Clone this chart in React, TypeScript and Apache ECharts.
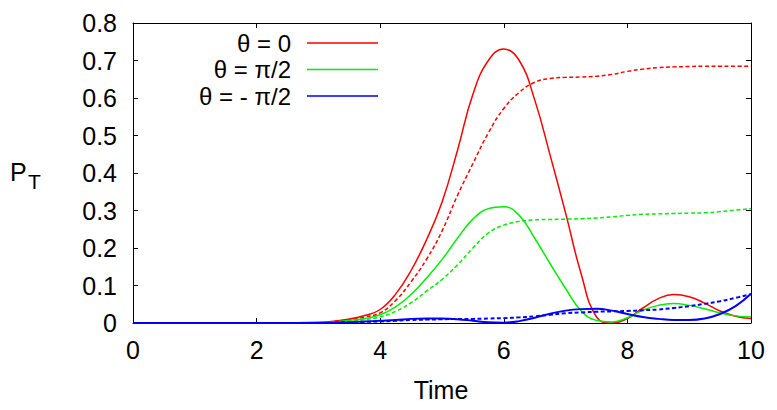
import React, { useEffect, useRef } from "react";
import * as echarts from "echarts";

const time = [0, 1, 2, 2.5, 3, 3.25, 3.5, 3.75, 4, 4.25, 4.5, 4.75, 5, 5.25, 5.5, 5.75, 6, 6.25, 6.5, 6.75, 7, 7.25, 7.5, 7.75, 8, 8.25, 8.5, 8.75, 9, 9.25, 9.5, 9.75, 10];

const redSolid = [0, 0, 0, 0.0005, 0.002, 0.005, 0.011, 0.02, 0.036, 0.077, 0.14, 0.222, 0.322, 0.46, 0.61, 0.7, 0.731, 0.7, 0.595, 0.447, 0.293, 0.132, 0.016, 0, 0.012, 0.04, 0.065, 0.076, 0.07, 0.053, 0.032, 0.018, 0.012];
const redDashed = [0, 0, 0, 0.0003, 0.001, 0.004, 0.009, 0.016, 0.027, 0.06, 0.11, 0.17, 0.245, 0.34, 0.425, 0.507, 0.572, 0.615, 0.642, 0.652, 0.655, 0.656, 0.658, 0.663, 0.671, 0.677, 0.681, 0.683, 0.684, 0.685, 0.685, 0.685, 0.685];
const greenSolid = [0, 0, 0, 0.0003, 0.001, 0.003, 0.007, 0.012, 0.022, 0.043, 0.076, 0.12, 0.169, 0.226, 0.277, 0.305, 0.31, 0.287, 0.226, 0.158, 0.092, 0.033, 0.007, 0.003, 0.014, 0.034, 0.047, 0.052, 0.047, 0.038, 0.027, 0.019, 0.016];
const greenDashed = [0, 0, 0, 0.0002, 0.001, 0.002, 0.004, 0.009, 0.016, 0.031, 0.054, 0.085, 0.116, 0.155, 0.2, 0.24, 0.261, 0.271, 0.275, 0.276, 0.277, 0.278, 0.28, 0.283, 0.287, 0.29, 0.291, 0.292, 0.293, 0.294, 0.297, 0.301, 0.305];
const blueSolid = [0, 0, 0, 0, 0, 0.001, 0.002, 0.004, 0.006, 0.008, 0.011, 0.012, 0.012, 0.01, 0.006, 0.002, 0.001, 0.005, 0.014, 0.025, 0.033, 0.037, 0.038, 0.033, 0.024, 0.016, 0.011, 0.008, 0.008, 0.012, 0.024, 0.045, 0.078];
const blueDashed = [0, 0, 0, 0, 0, 0.001, 0.002, 0.003, 0.004, 0.006, 0.008, 0.009, 0.01, 0.011, 0.011, 0.012, 0.013, 0.015, 0.018, 0.022, 0.026, 0.028, 0.03, 0.031, 0.032, 0.034, 0.036, 0.04, 0.045, 0.051, 0.058, 0.067, 0.077];

const legendNames = ["θ = 0", "θ = π/2", "θ = - π/2"];
const xTicks = { min: 0, max: 10, interval: 2 };
const yTicks = { min: 0, max: 0.8, interval: 0.1 };

const FONT = "'Liberation Sans', Arial, Helvetica, sans-serif";
const RED = "#ff0000";
const GREEN = "#00ee00";
const BLUE = "#0000ff";

function pairs(vals: number[]) {
  return time.map((t, i) => [t, vals[i]]);
}

export default function App() {
  const ref = useRef<HTMLDivElement>(null);
  useEffect(() => {
    const chart = echarts.init(ref.current!, undefined, { renderer: "svg" });
    const axisCommon = {
      type: "value",
      splitLine: { show: false },
      axisLine: { show: true, onZero: false, lineStyle: { color: "#000", width: 1 } },
      axisTick: { show: true, inside: true, length: 5, lineStyle: { color: "#000", width: 1 } },
    };
    const mk = (name: string, vals: number[], color: string, dashed: boolean, width: number) => ({
      type: "line",
      name,
      data: pairs(vals),
      smooth: 0.45,
      symbol: "none",
      showSymbol: false,
      clip: true,
      lineStyle: { color, width, type: dashed ? [4, 2.5] : "solid" },
      itemStyle: { color },
    });
    chart.setOption({
      animation: false,
      backgroundColor: "#fff",
      grid: { left: 133, right: 26, top: 23, bottom: 87 },
      xAxis: [
        {
          ...axisCommon,
          ...xTicks,
          position: "bottom",
          axisLabel: { fontSize: 25, color: "#000", fontFamily: FONT, margin: 14 },
        },
        {
          ...axisCommon,
          ...xTicks,
          position: "top",
          axisLabel: { show: false },
        },
      ],
      yAxis: [
        {
          ...axisCommon,
          ...yTicks,
          position: "left",
          axisLabel: {
            fontSize: 25,
            color: "#000",
            fontFamily: FONT,
            margin: 16,
            formatter: (v: number) => (v === 0 ? "0" : v.toFixed(1)),
          },
        },
        {
          ...axisCommon,
          ...yTicks,
          position: "right",
          axisLabel: { show: false },
        },
      ],
      legend: {
        data: legendNames,
        orient: "vertical",
        align: "right",
        right: 399,
        top: 31,
        icon: "rect",
        itemWidth: 71,
        itemHeight: 1.6,
        itemGap: 2.5,
        padding: 0,
        selectedMode: false,
        textStyle: { fontSize: 24, lineHeight: 24, color: "#000", fontFamily: FONT, padding: [0, 11, 0, 0] },
      },
      graphic: [
        {
          type: "text",
          x: 10,
          y: 172,
          style: { text: "P", font: `25px ${FONT}`, fill: "#000", textVerticalAlign: "middle" },
        },
        {
          type: "text",
          x: 28,
          y: 181,
          style: { text: "T", font: `21px ${FONT}`, fill: "#000", textVerticalAlign: "middle" },
        },
        {
          type: "text",
          x: 441,
          y: 390,
          style: { text: "Time", font: `25px ${FONT}`, fill: "#000", textAlign: "center", textVerticalAlign: "middle" },
        },
      ],
      series: [
        mk(legendNames[0], redSolid, RED, false, 1.5),
        mk("θ = 0 (dashed)", redDashed, RED, true, 1.5),
        mk(legendNames[1], greenSolid, GREEN, false, 1.5),
        mk("θ = π/2 (dashed)", greenDashed, GREEN, true, 1.5),
        mk(legendNames[2], blueSolid, BLUE, false, 2),
        mk("θ = - π/2 (dashed)", blueDashed, BLUE, true, 2),
      ],
    });
    return () => chart.dispose();
  }, []);
  return (
    <div
      ref={ref}
      style={{ position: "absolute", left: 0, top: 0, width: 777, height: 410 }}
    />
  );
}
